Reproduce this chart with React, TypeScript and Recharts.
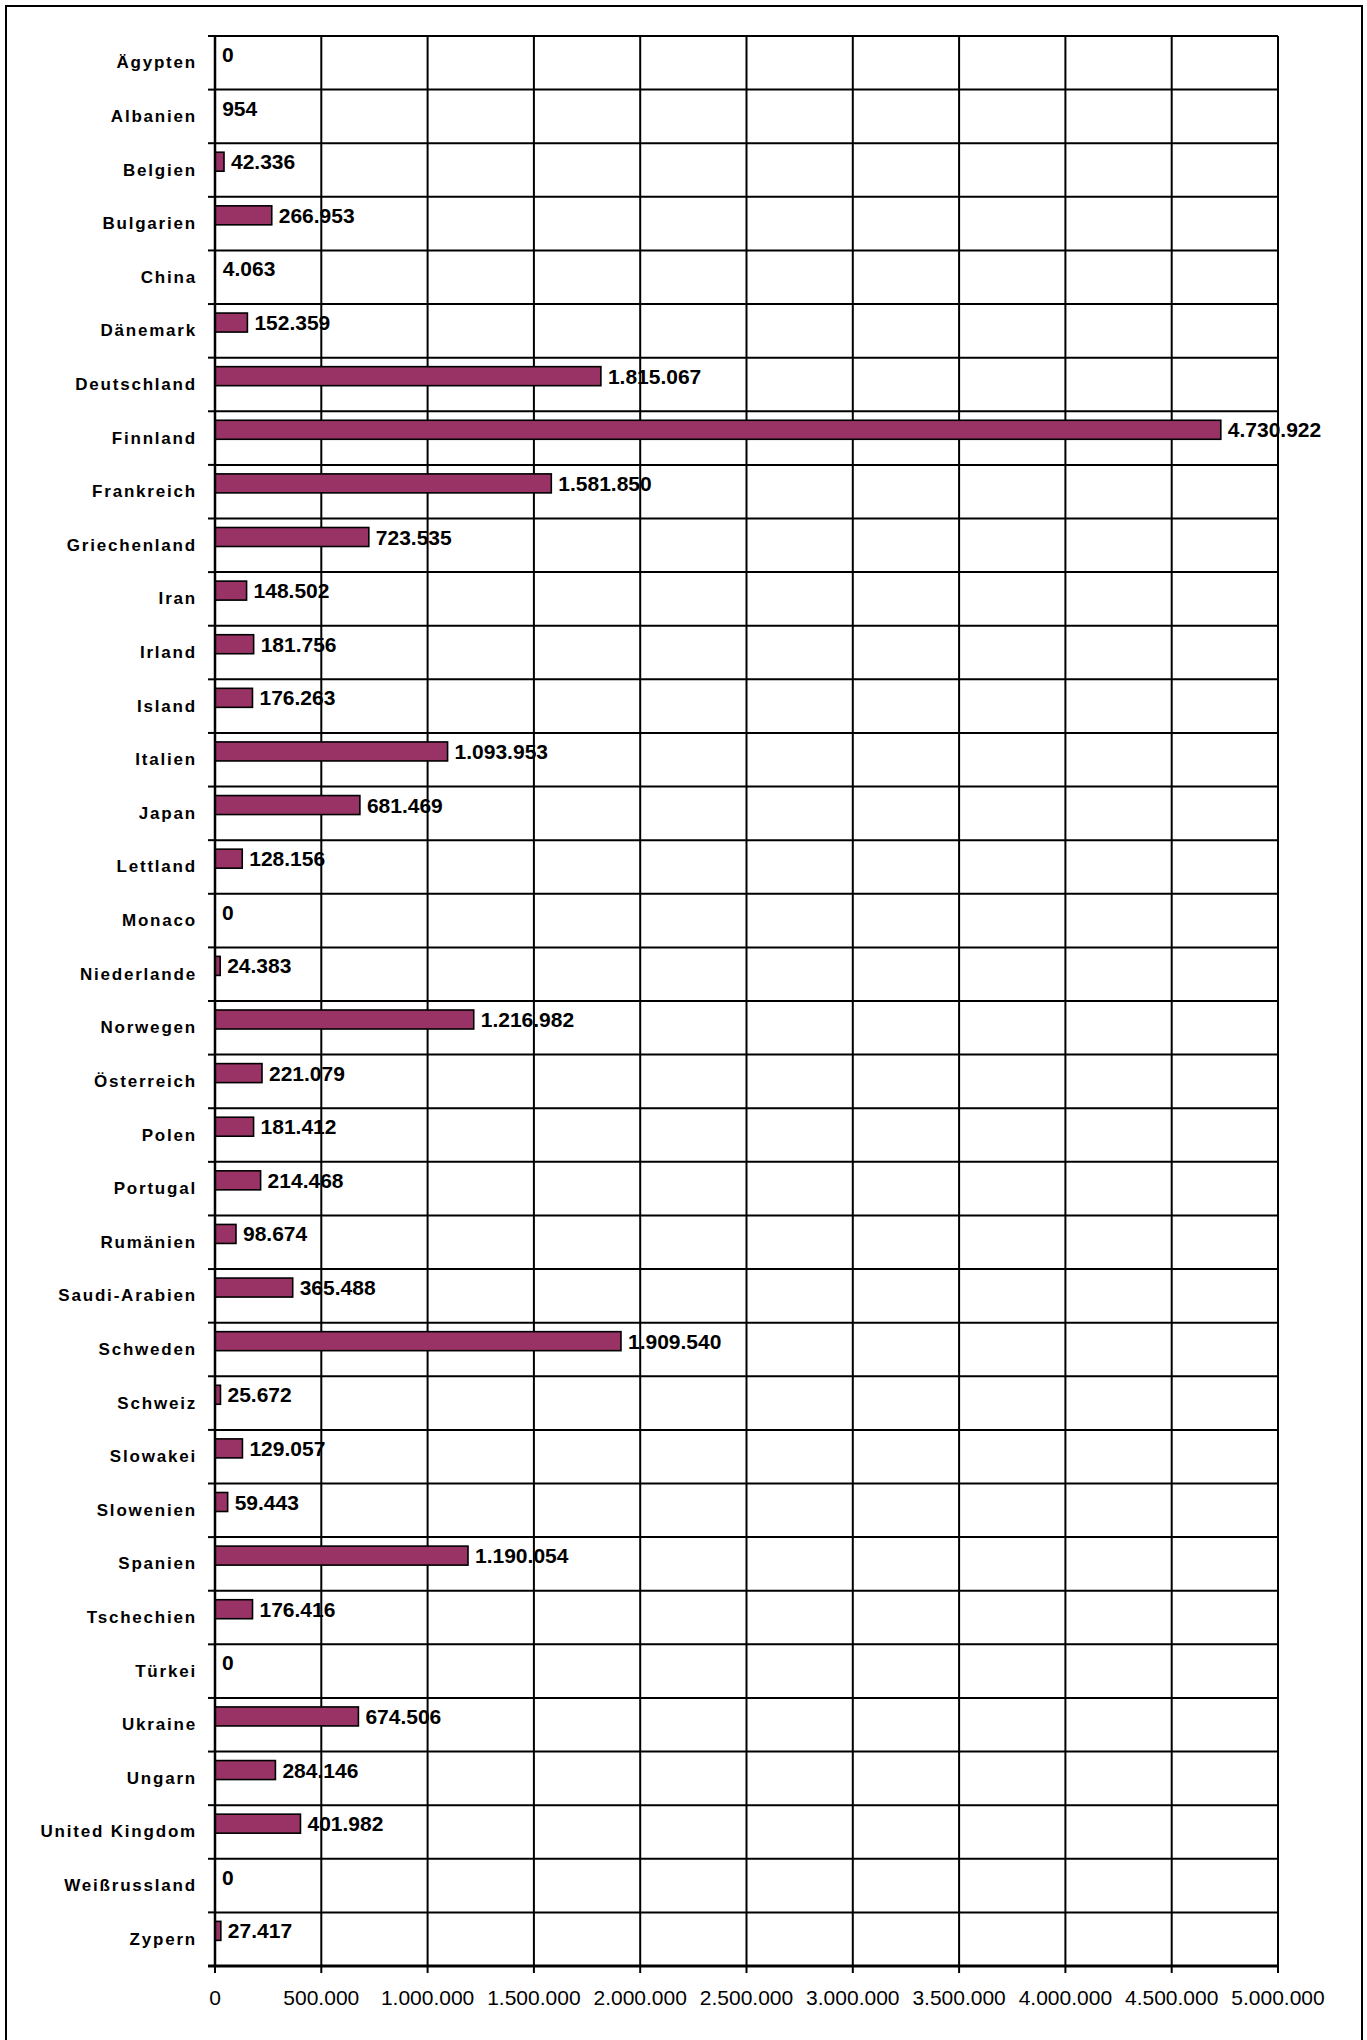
import React from 'react';
import { BarChart, Bar, XAxis, YAxis, CartesianGrid, LabelList } from 'recharts';

const countries = [
  'Ägypten', 'Albanien', 'Belgien', 'Bulgarien', 'China', 'Dänemark', 'Deutschland', 'Finnland',
  'Frankreich', 'Griechenland', 'Iran', 'Irland', 'Island', 'Italien', 'Japan', 'Lettland',
  'Monaco', 'Niederlande', 'Norwegen', 'Österreich', 'Polen', 'Portugal', 'Rumänien',
  'Saudi-Arabien', 'Schweden', 'Schweiz', 'Slowakei', 'Slowenien', 'Spanien', 'Tschechien',
  'Türkei', 'Ukraine', 'Ungarn', 'United Kingdom', 'Weißrussland', 'Zypern',
];

const values = [
  0, 954, 42336, 266953, 4063, 152359, 1815067, 4730922,
  1581850, 723535, 148502, 181756, 176263, 1093953, 681469, 128156,
  0, 24383, 1216982, 221079, 181412, 214468, 98674,
  365488, 1909540, 25672, 129057, 59443, 1190054, 176416,
  0, 674506, 284146, 401982, 0, 27417,
];

const xTicks = [0, 500000, 1000000, 1500000, 2000000, 2500000, 3000000, 3500000, 4000000, 4500000, 5000000];

const data = countries.map((name, i) => ({ name, value: values[i] }));

const FONT = 'Liberation Sans, Arial, Helvetica, sans-serif';
const BAR_SHIFT = -8;
const TICK_SIZE = 7;
const TICK_MARGIN = 11;

const fmt = (v: number) => String(Math.round(v)).replace(/\B(?=(\d{3})+(?!\d))/g, '.');

const BarShape = (props: any) => {
  const { x, y, width, height } = props;
  if (!width || width < 2) return null;
  return (
    <rect x={x} y={y + BAR_SHIFT} width={width} height={height} fill="#993366" stroke="#000" strokeWidth={1.6} />
  );
};

const ValueLabel = (props: any) => {
  const { x, y, width, height, value } = props;
  return (
    <text
      x={x + (width || 0) + 7}
      y={y + height / 2 + BAR_SHIFT}
      dominantBaseline="central"
      fontFamily={FONT}
      fontWeight="bold"
      fontSize={21}
      fill="#000"
    >
      {fmt(value)}
    </text>
  );
};

const CategoryTick = (props: any) => {
  const { x, y, payload, index, visibleTicksCount } = props;
  const half = payload && payload.offset ? payload.offset : 0;
  const axisX = x + TICK_SIZE + TICK_MARGIN;
  const last = index === (visibleTicksCount || countries.length) - 1;
  return (
    <g>
      <line x1={axisX - TICK_SIZE} x2={axisX} y1={y - half} y2={y - half} stroke="#000" strokeWidth={2} />
      {last && <line x1={axisX - TICK_SIZE} x2={axisX} y1={y + half} y2={y + half} stroke="#000" strokeWidth={3} />}
      <text
        x={x}
        y={y}
        textAnchor="end"
        dominantBaseline="central"
        fontFamily={FONT}
        fontWeight="bold"
        fontSize={17}
        letterSpacing={1.8}
        fill="#000"
      >
        {payload.value}
      </text>
    </g>
  );
};

// Band boundaries of the category axis, taken from the plot area the library computed.
const bandBoundaries = (args: any) => {
  const off = (args && args.offset) || {};
  const top = off.top;
  const h = off.height;
  if (typeof top !== 'number' || typeof h !== 'number') return [];
  const n = countries.length;
  return countries.map((_, i) => top + (h * i) / n).concat(top + h);
};

export default function App() {
  return (
    <div style={{ position: 'absolute', left: 0, top: 0, width: 1367, height: 2040, overflow: 'hidden', background: '#fff' }}>
      <div
        style={{
          position: 'absolute',
          left: 5,
          top: 5,
          width: 1358,
          height: 2100,
          border: '2px solid #000',
          boxSizing: 'border-box',
        }}
      />
      <div style={{ position: 'absolute', left: 0, top: 0 }}>
        <BarChart
          layout="vertical"
          width={1367}
          height={2040}
          data={data}
          margin={{ top: 36, right: 89, bottom: 14, left: 0 }}
        >
          <CartesianGrid
            yAxisId="cat"
            stroke="#000"
            strokeWidth={2}
            horizontal={{ strokeWidth: 1.8 } as any}
            horizontalCoordinatesGenerator={bandBoundaries as any}
            fill="none"
          />
          <XAxis
            type="number"
            domain={[0, 5000000]}
            ticks={xTicks}
            interval={0}
            height={60}
            tickFormatter={fmt}
            axisLine={{ stroke: '#000', strokeWidth: 3 }}
            tickLine={{ stroke: '#000', strokeWidth: 2 }}
            tickSize={7}
            tickMargin={17}
            tick={{ fontFamily: FONT, fontSize: 21, fill: '#000' }}
          />
          <YAxis
            yAxisId="cat"
            type="category"
            dataKey="name"
            width={215}
            interval={0}
            axisLine={{ stroke: '#000', strokeWidth: 2.5 }}
            tickLine={false}
            tickSize={TICK_SIZE}
            tickMargin={TICK_MARGIN}
            tick={<CategoryTick />}
          />
          <Bar
            yAxisId="cat"
            dataKey="value"
            barSize={19}
            isAnimationActive={false}
            shape={<BarShape />}
          >
            <LabelList dataKey="value" content={<ValueLabel />} />
          </Bar>
        </BarChart>
      </div>
    </div>
  );
}
